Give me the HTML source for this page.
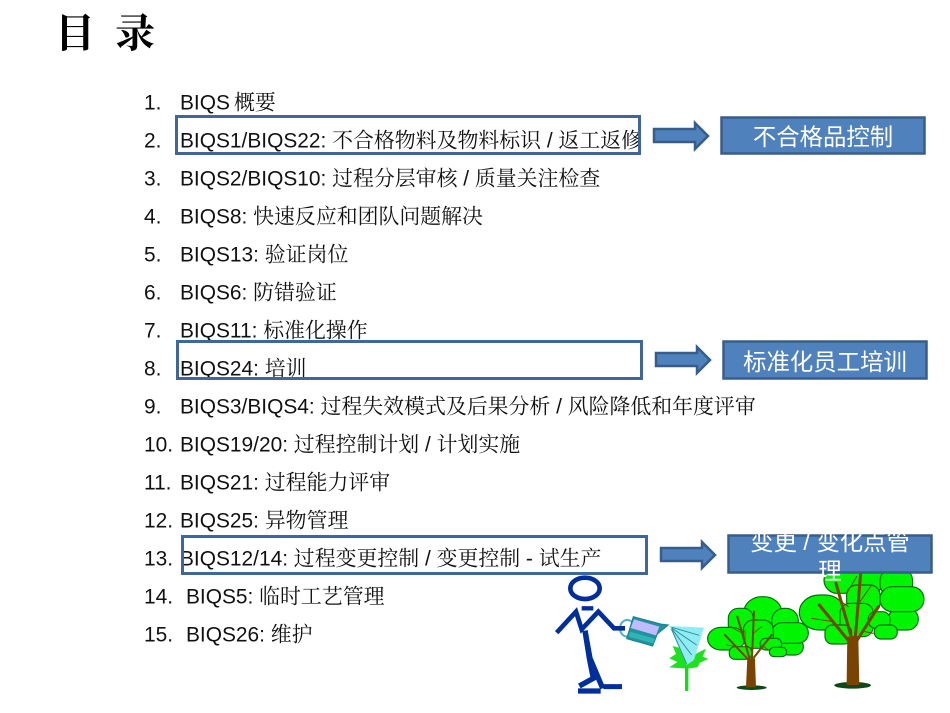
<!DOCTYPE html>
<html><head><meta charset="utf-8">
<style>
html,body{margin:0;padding:0;background:#fff;width:950px;height:713px;overflow:hidden}
svg{display:block}
.l{font-family:"Liberation Sans","Noto Serif CJK SC",serif;font-size:20.9px;fill:#111}
.w{font-family:"Liberation Sans","Noto Sans CJK SC",sans-serif;font-size:23.4px;fill:#fff;text-anchor:middle}
.t{font-family:"Liberation Serif","Noto Serif CJK SC",serif;font-size:40px;font-weight:700;fill:#000}
.b{fill:#4f81bd;stroke:#385d8a;stroke-width:2.5}
.r{fill:none;stroke:#41679a;stroke-width:3}
.leaf rect{fill:#00f500;stroke:#0a6a12;stroke-width:3.500}
</style></head><body>
<svg width="950" height="713" viewBox="0 0 950 713" xmlns="http://www.w3.org/2000/svg">
<rect width="950" height="713" fill="#fff"/>
<text class="t" x="55" y="47">目</text><text class="t" x="115" y="47">录</text>

<g class="l" transform="translate(0,.5)">
<text x="144" y="109">1.</text><text x="180" y="109">BIQS</text><text x="234" y="109">概要</text>
<text x="144" y="147">2.</text><text x="180" y="147">BIQS1/BIQS22: 不合格物料及物料标识 / 返工返修</text>
<text x="144" y="185">3.</text><text x="180" y="185">BIQS2/BIQS10: 过程分层审核 / 质量关注检查</text>
<text x="144" y="223">4.</text><text x="180" y="223">BIQS8: 快速反应和团队问题解决</text>
<text x="144" y="261">5.</text><text x="180" y="261">BIQS13: 验证岗位</text>
<text x="144" y="299">6.</text><text x="180" y="299">BIQS6: 防错验证</text>
<text x="144" y="337">7.</text><text x="180" y="337">BIQS11: 标准化操作</text>
<text x="144" y="375">8.</text><text x="180" y="375">BIQS24: 培训</text>
<text x="144" y="413">9.</text><text x="180" y="413">BIQS3/BIQS4: 过程失效模式及后果分析 / 风险降低和年度评审</text>
<text x="144" y="451">10.</text><text x="180" y="451">BIQS19/20: 过程控制计划 / 计划实施</text>
<text x="144" y="489">11.</text><text x="180" y="489">BIQS21: 过程能力评审</text>
<text x="144" y="527">12.</text><text x="180" y="527">BIQS25: 异物管理</text>
<text x="144" y="565">13.</text><text x="180" y="565">BIQS12/14: 过程变更控制 / 变更控制 - 试生产</text>
<text x="144" y="603">14.</text><text x="186" y="603">BIQS5: 临时工艺管理</text>
<text x="144" y="641">15.</text><text x="186" y="641">BIQS26: 维护</text>
</g>

<rect class="r" x="176.500" y="116.500" width="463" height="37"/>
<rect class="r" x="177.500" y="341.500" width="464" height="37"/>
<rect class="r" x="182.500" y="536.500" width="464" height="37"/>

<g fill="#4f81bd" stroke="#385d8a" stroke-width="2.500">
<path d="M654 129H695V123L708 136L695 149V142H654Z"/>
<path d="M656 353H697V347L710 360L697 373V366H656Z"/>
<path d="M661 548H702V542L715 555L702 568V561H661Z"/>
</g>

<!-- trees -->
<g transform="translate(540,570) scale(.3333)">
<g class="leaf">
<!-- small tree -->
<rect x="612" y="80" width="113" height="95" rx="54" ry="46"/>
<rect x="565" y="115" width="75" height="80" rx="30"/>
<rect x="695" y="115" width="80" height="75" rx="37"/>
<rect x="720" y="205" width="70" height="50" rx="24"/>
<rect x="695" y="158" width="110" height="62" rx="31" ry="31"/>
<rect x="503" y="172" width="112" height="68" rx="40" ry="34"/>
<rect x="610" y="150" width="90" height="85" rx="30"/>
<rect x="660" y="205" width="65" height="35" rx="17"/>
<rect x="568" y="230" width="67" height="38" rx="16"/>
<rect x="688" y="232" width="52" height="28" rx="14"/>
<!-- big tree -->
<rect x="852" y="-10" width="180" height="80" rx="40"/>
<rect x="1020" y="-10" width="98" height="95" rx="44"/>
<rect x="1045" y="115" width="90" height="65" rx="32"/>
<rect x="1020" y="50" width="132" height="75" rx="37"/>
<rect x="778" y="75" width="137" height="105" rx="60" ry="52"/>
<rect x="920" y="45" width="100" height="85" rx="30"/>
<rect x="900" y="100" width="100" height="100" rx="30"/>
<rect x="855" y="165" width="80" height="57" rx="22"/>
<rect x="985" y="125" width="65" height="50" rx="22"/>
<rect x="1003" y="165" width="69" height="42" rx="20"/>
</g>
<ellipse cx="635" cy="353" rx="45" ry="7" fill="#0b4a12"/>
<ellipse cx="938" cy="346" rx="55" ry="10" fill="#0b4a12"/>
<path d="M622 265H645L648 352H618Z" fill="#7a4300"/>
<path d="M922 200H955L958 345H920Z" fill="#7a4300"/>
<g fill="none" stroke="#7a4300" stroke-linecap="round">
<path stroke-width="6" d="M628 272L555 195M630 270L592 140M636 265L642 125M642 262L695 195"/>
<path stroke-width="2.500" d="M590 230L560 225M608 190L570 170M640 190L665 170M615 180L615 220M665 225L685 240"/>
<path stroke-width="9" d="M932 220L838 105M938 215L888 40M945 215L962 10M952 210L1015 110"/>
<path stroke-width="3" d="M880 155L815 145M925 110L890 85M920 70L950 20M960 95L995 45M975 185L1000 190"/>
</g>
</g>

<rect class="b" x="721.500" y="117.500" width="203" height="36"/>
<text class="w" x="823" y="145">不合格品控制</text>
<rect class="b" x="723.500" y="341.500" width="203" height="37"/>
<text class="w" x="825" y="370">标准化员工培训</text>
<rect class="b" x="728.500" y="535.500" width="203" height="37"/>
<text class="w" x="830" y="550">变更 / 变化点管</text>
<text class="w" x="830" y="579">理</text>

<!-- small plant -->
<g transform="translate(540,560) scale(.3333)">
<path d="M440 326L388 322L412 306L388 295L408 282L398 258L425 265L445 300L470 280L498 266L488 290L505 297L480 308L472 322Z" fill="#1fe01f"/>
<path d="M440 320V393" stroke="#10e010" stroke-width="10"/>
<path d="M388 198L492 203L462 300L440 315Z" fill="#8fecf2"/>
<path d="M395 202L478 226M395 204L470 255M395 206L455 285M395 208L440 312" stroke="#2f8fa0" stroke-width="3" fill="none"/>
<!-- can -->
<ellipse cx="262" cy="205" rx="22" ry="25" fill="none" stroke="#4fb0c0" stroke-width="6"/>
<path d="M280 170L362 192L385 195L352 222L338 258L260 236Z" fill="#23929c" stroke="#178090" stroke-width="3"/>
<path d="M282 178L358 200L348 226L272 204Z" fill="#c0baff"/>
<path d="M270 215L345 236L340 250L266 230Z" fill="#2fb5b5"/>
<!-- person -->
<g fill="none" stroke="#002f9c">
<ellipse cx="135" cy="85" rx="44" ry="32" stroke-width="14"/>
<path stroke-width="13" d="M125 145H160"/>
<path stroke-width="14" d="M50 218L108 155L125 208L175 155L222 205H255"/>
<path stroke-width="16" d="M135 212L150 295L188 385"/>
<path stroke-width="16" d="M135 212L148 295L160 355L118 378"/>
<path stroke-width="16" d="M114 393H182"/>
<path stroke-width="15" d="M190 380H246"/>
</g>
</g>
</svg>
</body></html>
